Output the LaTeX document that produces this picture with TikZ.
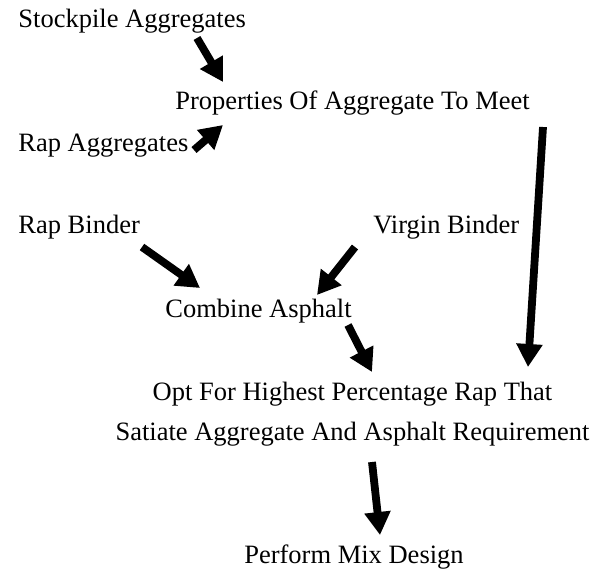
\documentclass[tikz,border=0pt]{standalone}
\usepackage{fontspec}
\setmainfont{Liberation Serif}
\usetikzlibrary{arrows.meta}
\tikzset{
  lbl/.style={anchor=base west,inner sep=0pt,font=\fontsize{13.25}{15}\selectfont},
  fatarrow/.style={line width=3.9pt,-{Triangle[width=12.5pt,length=11.5pt]}},
}
\begin{document}
\begin{tikzpicture}[x=0.5pt,y=-0.5pt]
  \useasboundingbox (0,0) rectangle (603,574);
  % Aggregates.
  \node[lbl] (stock) at (18,27) {Stockpile Aggregates};
  \node[lbl] (props) at (175,109) {Properties Of Aggregate To Meet};
  \node[lbl] (rapagg) at (18,151) {Rap Aggregates};

  % Binders.
  \node[lbl] (rapbind) at (18,233) {Rap Binder};
  \node[lbl] (virgin) at (373,233) {Virgin Binder};
  \node[lbl] (combine) at (165,317) {Combine Asphalt};

  % Selection and design.
  \node[lbl,anchor=base] (opt) at (352.5,400) {Opt For Highest Percentage Rap That};
  \node[lbl,anchor=base] (satiate) at (352.5,440) {Satiate Aggregate And Asphalt Requirement};
  \node[lbl,anchor=base] (mix) at (354,563) {Perform Mix Design};

  \coordinate (stock-s) at (197,38);   \coordinate (stock-e) at (223,82);
  \coordinate (rapagg-s) at (194,150); \coordinate (rapagg-e) at (223,125);
  \coordinate (rapbind-s) at (142,247); \coordinate (rapbind-e) at (200,288);
  \coordinate (virgin-s) at (355,247); \coordinate (virgin-e) at (317,295);
  \coordinate (combine-s) at (348,325); \coordinate (combine-e) at (372,372);
  \coordinate (props-s) at (543,127);  \coordinate (props-e) at (528,367);
  \coordinate (satiate-s) at (372,462); \coordinate (satiate-e) at (380,535);

  \draw[fatarrow] (stock-s) -- (stock-e);
  \draw[fatarrow] (rapagg-s) -- (rapagg-e);
  \draw[fatarrow] (rapbind-s) -- (rapbind-e);
  \draw[fatarrow] (virgin-s) -- (virgin-e);
  \draw[fatarrow] (combine-s) -- (combine-e);
  \draw[fatarrow] (props-s) -- (props-e);
  \draw[fatarrow] (satiate-s) -- (satiate-e);
\end{tikzpicture}
\end{document}
